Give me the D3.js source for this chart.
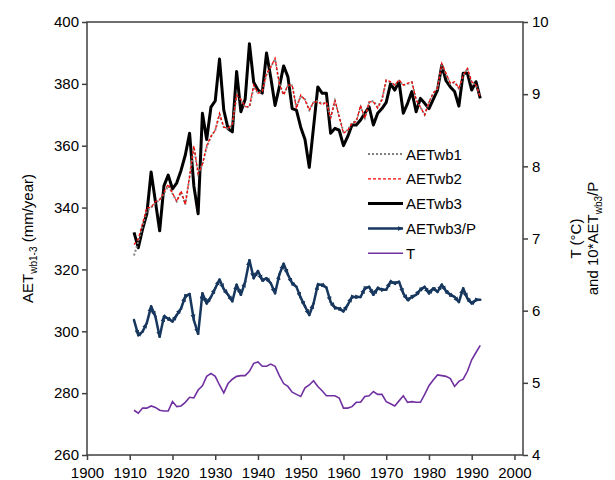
<!DOCTYPE html>
<html>
<head>
<meta charset="utf-8">
<script src="https://cdn.jsdelivr.net/npm/d3@7"></script>
<style>
  body { margin: 0; background: #fff; }
  svg { font-family: "Liberation Sans", Arial, sans-serif; }
</style>
</head>
<body>
<div class="canvas"></div>
<script>
// years 1911..1992
const years = d3.range(1911, 1993);

// left axis (mm/year)
const aetWb1 = [324.5,329,334,339,340,341.5,342.5,344.5,347,344.5,342,345,341,350,359.5,351,354,359.5,363,365,370,366,365.5,367,376,375,372.5,372.5,379,377,377.5,383,385.5,388,380,376.5,379.5,379.5,372.5,376,375,371.5,374,374.5,373.5,374,369,374.5,369.5,364.5,365,367.5,368,372.5,369,374,374.5,372.5,375,381,380.5,379.5,381,379.5,380,380.5,375,372.5,370,374,377,378.5,386,383,380,380.5,378.5,382.5,385,380.5,379.5,376];
const aetWb2 = [328,330,335,340,340,342,342.5,345,347.6,344.7,342,345.4,341,350,360,351,354,360,363,365,370.5,366,365.6,367,376.4,375,372.6,372.6,379.6,377,377.5,383.4,385.5,388.3,380,376.4,379.6,379.6,372,376.4,374.8,371.5,374.2,374.2,373.2,374.2,368.8,374.8,369.4,364,365,367.3,367.8,373,368.8,374.2,374.2,372.1,374.8,381.3,380.7,379.6,381.3,379.6,380.2,380.7,374.8,372.5,370,374,377,378.6,386.6,383.4,380.2,380.7,378.6,382.8,385,380.7,379.6,375.8];
const aetWb3 = [332,327,333,338,351.5,342,332.5,347,350.5,346,348,352,357,364,347,338,370.5,362,372.5,374.5,388,371.5,365.5,364.5,384,371,375,393,380.5,378,377,390,382,373,379,385.8,382.3,372,371.5,366,362,353,366,379,377,377,364,365.6,365,360,363,366.7,366.7,368.3,370.5,372.6,366.7,370.5,372,374,380,378,380.7,370.5,373.7,377.5,371,375.3,373.7,372,375,378,386,381,379,377.5,372.8,383.4,383.4,378,380.7,375.3];

// right axis (T in degC, 10*AETwb3/P)
const aetRatio = [5.87,5.66,5.71,5.83,6.06,5.92,5.64,5.92,5.89,5.85,5.94,6.03,6.20,6.23,5.87,5.68,6.24,6.10,6.19,6.31,6.43,6.30,6.22,6.13,6.36,6.22,6.40,6.70,6.45,6.55,6.42,6.45,6.38,6.24,6.50,6.65,6.50,6.38,6.33,6.18,6.06,5.94,6.10,6.36,6.36,6.32,6.12,6.04,6.03,5.99,6.08,6.19,6.19,6.19,6.31,6.33,6.22,6.31,6.29,6.29,6.40,6.38,6.40,6.24,6.15,6.19,6.22,6.29,6.33,6.24,6.31,6.26,6.36,6.27,6.22,6.19,6.12,6.31,6.17,6.10,6.15,6.15];
const temp = [4.62,4.58,4.65,4.65,4.68,4.66,4.62,4.61,4.61,4.74,4.67,4.68,4.73,4.80,4.79,4.90,4.96,5.09,5.13,5.09,4.97,4.86,4.99,5.05,5.09,5.10,5.10,5.16,5.27,5.29,5.23,5.23,5.26,5.23,5.10,4.99,4.95,4.87,4.84,4.81,4.93,4.97,5.03,4.95,4.89,4.82,4.82,4.82,4.79,4.65,4.65,4.67,4.73,4.73,4.81,4.82,4.88,4.84,4.84,4.74,4.71,4.68,4.75,4.82,4.73,4.74,4.73,4.73,4.84,4.96,5.04,5.11,5.10,5.09,5.06,4.95,5.02,5.05,5.16,5.32,5.42,5.52];

const xTicks = d3.range(1900, 2001, 10);
const yLeftTicks = d3.range(260, 401, 20);
const yRightTicks = d3.range(4, 11, 1);

const svg = d3.select('.canvas')
    .append('svg')
    .attr('width', 615)
    .attr('height', 480);

const margin = {top: 22, right: 92, bottom: 25, left: 87};
const width = 615 - margin.left - margin.right;   // 436
const height = 480 - margin.top - margin.bottom;  // 433

const graph = svg.append('g')
    .attr('transform', `translate(${margin.left},${margin.top})`);

const x = d3.scaleLinear().domain([1900, 2002]).range([0, width]);
const yL = d3.scaleLinear().domain([260, 400]).range([height, 0]);
const yR = d3.scaleLinear().domain([4, 10]).range([height, 0]);

const axisColor = '#404040';

// arrow marker for AETwb3/P
svg.append('defs').append('marker')
    .attr('id', 'arrow')
    .attr('viewBox', '0 0 10 10')
    .attr('refX', 9).attr('refY', 5)
    .attr('markerUnits', 'userSpaceOnUse')
    .attr('markerWidth', 6).attr('markerHeight', 6)
    .attr('orient', 'auto')
  .append('path')
    .attr('d', 'M0,1 L10,5 L0,9 z')
    .attr('fill', '#17375e');

// axes
const xAxis = d3.axisBottom(x).tickValues(xTicks).tickSize(5).tickSizeOuter(0).tickFormat(d3.format('d'));
const yAxisL = d3.axisLeft(yL).tickValues(yLeftTicks).tickSize(5).tickSizeOuter(0).tickFormat(d3.format('d'));
const yAxisR = d3.axisRight(yR).tickValues(yRightTicks).tickSize(5).tickSizeOuter(0).tickFormat(d3.format('d'));

const xg = graph.append('g').attr('transform', `translate(0,${height})`).call(xAxis);
const ylg = graph.append('g').call(yAxisL);
const yrg = graph.append('g').attr('transform', `translate(${width},0)`).call(yAxisR);

[xg, ylg, yrg].forEach(g => {
    g.select('.domain').remove();
    g.selectAll('line').attr('stroke', axisColor).attr('stroke-width', 1.5);
    g.selectAll('text').attr('fill', '#000').style('font-size', '15px');
});
xg.selectAll('text').attr('dy', '1.0em');
ylg.selectAll('text').attr('x', -8);
yrg.selectAll('text').attr('x', 9);

// frame
graph.append('rect')
    .attr('width', width).attr('height', height)
    .attr('fill', 'none')
    .attr('stroke', axisColor)
    .attr('stroke-width', 1.5);

const lineL = d3.line().x((d, i) => x(years[i])).y(d => yL(d));
const lineR = d3.line().x((d, i) => x(years[i])).y(d => yR(d));

// T
graph.append('path').datum(temp)
    .attr('d', lineR).attr('fill', 'none')
    .attr('stroke', '#7030a0').attr('stroke-width', 1.6);

// AETwb3/P with arrow on each segment
const segs = d3.pairs(aetRatio.map((v, i) => [years[i], v]));
graph.append('g').selectAll('line')
    .data(segs).enter().append('line')
    .attr('x1', d => x(d[0][0])).attr('y1', d => yR(d[0][1]))
    .attr('x2', d => x(d[1][0])).attr('y2', d => yR(d[1][1]))
    .attr('stroke', '#17375e').attr('stroke-width', 2.5)
    .attr('stroke-linecap', 'round')
    .attr('marker-end', 'url(#arrow)');

// AETwb3
graph.append('path').datum(aetWb3)
    .attr('d', lineL).attr('fill', 'none')
    .attr('stroke', '#000').attr('stroke-width', 3)
    .attr('stroke-linejoin', 'round');

// AETwb1 (dotted gray)
graph.append('path').datum(aetWb1)
    .attr('d', lineL).attr('fill', 'none')
    .attr('stroke', '#808080').attr('stroke-width', 2)
    .attr('stroke-dasharray', '2,2');

// AETwb2 (dashed red)
graph.append('path').datum(aetWb2)
    .attr('d', lineL).attr('fill', 'none')
    .attr('stroke', '#ff0000').attr('stroke-width', 1.2)
    .attr('stroke-dasharray', '3,2');

// legend
const legendItems = [
    {name: 'AETwb1', color: '#808080', w: 2, dash: '2,2'},
    {name: 'AETwb2', color: '#ff0000', w: 1.2, dash: '3,2'},
    {name: 'AETwb3', color: '#000', w: 3, dash: null},
    {name: 'AETwb3/P', color: '#17375e', w: 2.5, dash: null, arrow: true},
    {name: 'T', color: '#7030a0', w: 1.6, dash: null}
];
const legend = svg.append('g').attr('transform', 'translate(368,154)');
legendItems.forEach((d, i) => {
    const g = legend.append('g').attr('transform', `translate(0,${i * 24.8})`);
    g.append('line')
        .attr('x1', 0).attr('x2', 35).attr('y1', 0).attr('y2', 0)
        .attr('stroke', d.color).attr('stroke-width', d.w)
        .attr('stroke-dasharray', d.dash)
        .attr('marker-end', d.arrow ? 'url(#arrow)' : null);
    g.append('text')
        .attr('x', 38).attr('y', 5.5)
        .style('font-size', '15px')
        .text(d.name);
});

// left axis title
const lt = svg.append('text')
    .attr('transform', `translate(33,${margin.top + height / 2}) rotate(-90)`)
    .attr('text-anchor', 'middle')
    .style('font-size', '15px');
lt.append('tspan').text('AET');
lt.append('tspan').attr('dy', 4).style('font-size', '10px').text('wb1-3');
lt.append('tspan').attr('dy', -4).text(' (mm/year)');

// right axis title
svg.append('text')
    .attr('transform', `translate(581,${margin.top + height / 2}) rotate(-90)`)
    .attr('text-anchor', 'middle')
    .style('font-size', '15px')
    .text('T (°C)');
const rt2 = svg.append('text')
    .attr('transform', `translate(598,${margin.top + height / 2}) rotate(-90)`)
    .attr('text-anchor', 'middle')
    .style('font-size', '15px');
rt2.append('tspan').text('and 10*AET');
rt2.append('tspan').attr('dy', 4).style('font-size', '10px').text('wb3');
rt2.append('tspan').attr('dy', -4).text('/P');
</script>
</body>
</html>
